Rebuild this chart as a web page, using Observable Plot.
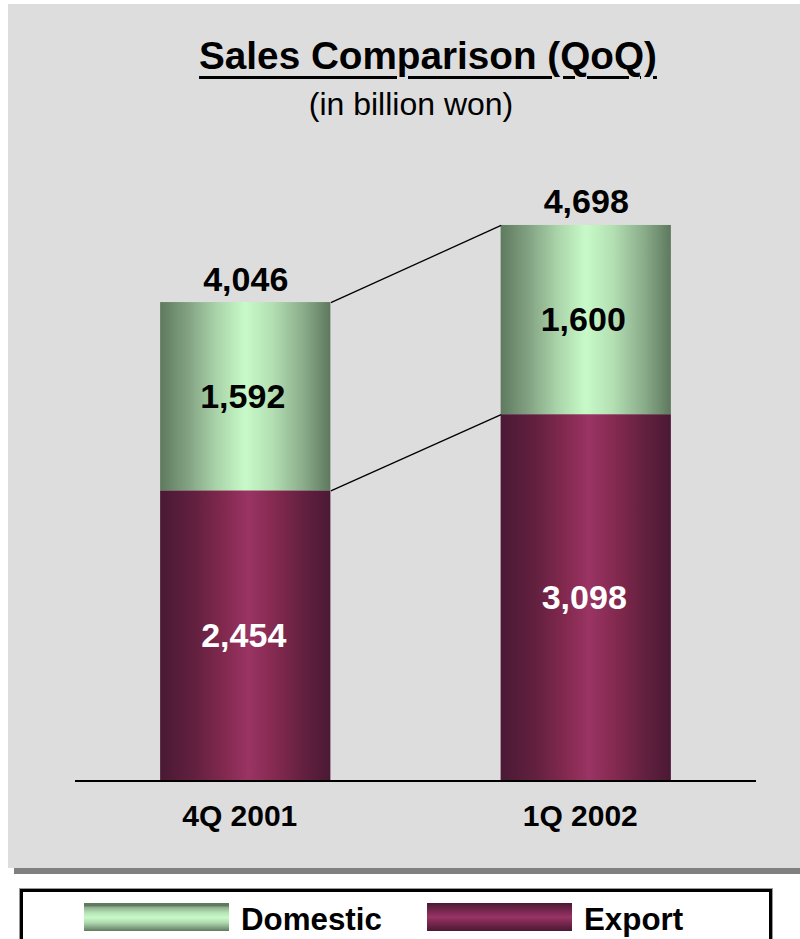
<!DOCTYPE html>
<html>
<head>
<meta charset="utf-8">
<script src="https://cdn.jsdelivr.net/npm/d3@7"></script>
<script src="https://cdn.jsdelivr.net/npm/@observablehq/plot@0.6"></script>
<style>
html, body { margin: 0; padding: 0; background: #ffffff; }
body { width: 800px; height: 939px; position: relative; overflow: hidden;
  font-family: "Liberation Sans", Arial, Helvetica, sans-serif; }
#panel { position: absolute; left: 8px; top: 4px; width: 792px; height: 864px; background: #dddddd; }
#shadow { position: absolute; left: 14px; top: 868px; width: 786px; height: 6px; background: #808080; }
.t { position: absolute; width: 600px; text-align: center; white-space: nowrap; color: #000; }
#title { left: 128px; top: 37px; font-size: 38.7px; line-height: 38.7px; font-weight: bold;
  text-decoration: underline; text-decoration-thickness: 3px; text-underline-offset: 7px; }
#subtitle { left: 111px; top: 87.5px; font-size: 32px; line-height: 32px; font-weight: normal; }
#chart { position: absolute; left: 0; top: 140px; }
#legend { position: absolute; left: 20px; top: 889px; width: 752px; height: 70px; box-sizing: border-box;
  border: 3px solid #000; background: #fff; box-shadow: 0 0 0 1px #999; }
.sw { position: absolute; top: 903px; width: 145px; height: 28px; }
.lt { position: absolute; top: 903.5px; font-size: 31.3px; line-height: 31.3px; font-weight: bold; color: #000; white-space: nowrap; }
</style>
</head>
<body>
<div id="panel"></div>
<div id="shadow"></div>
<div id="title" class="t">Sales Comparison (QoQ)</div>
<div id="subtitle" class="t">(in billion won)</div>
<div id="chart"></div>
<div id="legend"></div>
<script>
// ---- data ----
const categories = ["4Q 2001", "1Q 2002"];
const series = ["Domestic", "Export"];
const domestic = [1592, 1600];
const exportVals = [2454, 3098];
const totals = [4046, 4698];

// ---- build stacked rows (Export at bottom, Domestic on top) ----
const rows = [];
categories.forEach((c, i) => rows.push({i, cat: c, series: "Export", value: exportVals[i], y1: 0, y2: exportVals[i]}));
categories.forEach((c, i) => rows.push({i, cat: c, series: "Domestic", value: domestic[i], y1: exportVals[i], y2: exportVals[i] + domestic[i]}));
const links = [
  {a: exportVals[0], b: exportVals[1]},
  {a: totals[0], b: totals[1]}
];
const HALF = 0.25;
const fmt = d3.format(",");
const FONT = "'Liberation Sans', Arial, Helvetica, sans-serif";

const svg = Plot.plot({
  width: 800,
  height: 700,
  marginLeft: 75,
  marginRight: 44,
  marginTop: 0,
  marginBottom: 59.5,
  style: {background: "transparent", fontFamily: FONT, overflow: "visible"},
  x: {domain: [-0.5, 1.5], axis: null},
  y: {domain: [0, 5416.5], axis: null},
  color: {type: "ordinal", domain: series, range: ["url(#gDom)", "url(#gExp)"]},
  marks: [
    Plot.rect(rows, {x1: d => d.i - HALF, x2: d => d.i + HALF, y1: "y1", y2: "y2", fill: "series"}),
    Plot.link(links, {x1: () => 0 + HALF, x2: () => 1 - HALF, y1: "a", y2: "b", stroke: "#000", strokeWidth: 1.3}),
    Plot.ruleY([0], {stroke: "#000", strokeWidth: 2}),
    Plot.text(rows, {filter: d => d.series === "Domestic", x: "i", y: d => (d.y1 + d.y2) / 2,
      text: d => fmt(d.value), fill: "#000", fontSize: 34, fontWeight: "bold", lineAnchor: "middle", dx: -3}),
    Plot.text(rows, {filter: d => d.series === "Export", x: "i", y: d => (d.y1 + d.y2) / 2,
      text: d => fmt(d.value), fill: "#fff", fontSize: 34, fontWeight: "bold", lineAnchor: "middle", dx: -2}),
    Plot.text(categories, {x: (d, i) => i, y: (d, i) => totals[i], text: (d, i) => fmt(totals[i]),
      fill: "#000", fontSize: 34, fontWeight: "bold", lineAnchor: "bottom", dy: -12}),
    Plot.text(categories, {x: (d, i) => i, y: () => 0, text: d => d,
      fill: "#000", fontSize: 30, fontWeight: "bold", lineAnchor: "bottom", dy: 44.5, dx: -6})
  ]
});

// gradients (cylinder-like shading)
const defs = d3.select(svg).insert("defs", ":first-child");
function grad(id, stops, vertical) {
  const g = defs.append("linearGradient").attr("id", id)
    .attr("x1", 0).attr("y1", 0).attr("x2", vertical ? 0 : 1).attr("y2", vertical ? 1 : 0);
  stops.forEach(([o, c]) => g.append("stop").attr("offset", o).attr("stop-color", c));
}
grad("gDom", [[0, "#5f7a5f"], [0.15, "#7f9e7f"], [0.33, "#a9d3a9"], [0.5, "#c8fac8"], [0.66, "#b3dfb3"], [0.85, "#88aa88"], [1, "#5e785e"]]);
grad("gExp", [[0, "#4a1935"], [0.2, "#62203f"], [0.38, "#83294f"], [0.52, "#9a3464"], [0.68, "#83294f"], [0.85, "#62203f"], [1, "#4a1935"]]);
document.getElementById("chart").appendChild(svg);

// legend
const legendCss = {
  Domestic: "linear-gradient(to bottom, #5f7a5f 0%, #5f7a5f 9%, #8fb08f 16%, #b6e4b6 35%, #c8fac8 52%, #b0d9b0 70%, #86a886 86%, #5f7a5f 100%)",
  Export: "linear-gradient(to bottom, #4a1935 0%, #6a2345 20%, #993366 50%, #6a2345 80%, #4a1935 100%)"
};
const swLeft = [84, 427], txtLeft = [241, 584];
series.forEach((s, k) => {
  const sw = document.createElement("div");
  sw.className = "sw"; sw.style.left = swLeft[k] + "px"; sw.style.background = legendCss[s];
  document.body.appendChild(sw);
  const t = document.createElement("div");
  t.className = "lt"; t.style.left = txtLeft[k] + "px"; t.textContent = s;
  document.body.appendChild(t);
});
</script>
</body>
</html>
